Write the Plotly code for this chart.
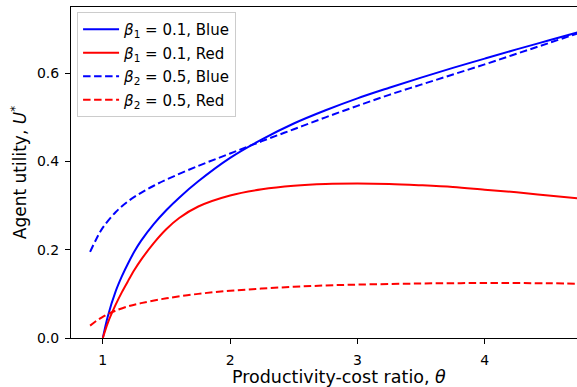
import plotly.graph_objects as go

# Blue solid: beta1 = 0.1, Blue
theta_b1 = [1.0, 1.04, 1.1, 1.15, 1.2, 1.25, 1.3, 1.4, 1.5, 1.6, 1.75, 2.0, 2.25, 2.5, 2.75,
            3.0, 3.25, 3.5, 3.75, 4.0, 4.25, 4.5, 4.75]
u_b1 = [0.0, 0.05, 0.105, 0.14, 0.17, 0.197, 0.22, 0.258, 0.29, 0.318, 0.355, 0.408, 0.45,
        0.486, 0.516, 0.543, 0.567, 0.59, 0.612, 0.633, 0.654, 0.674, 0.694]

# Red solid: beta1 = 0.1, Red
theta_r1 = [1.0, 1.04, 1.1, 1.15, 1.2, 1.25, 1.3, 1.4, 1.5, 1.6, 1.75, 2.0, 2.25, 2.5, 2.75,
            3.0, 3.25, 3.5, 3.75, 4.0, 4.25, 4.5, 4.75]
u_r1 = [0.0, 0.035, 0.075, 0.104, 0.13, 0.155, 0.177, 0.215, 0.247, 0.272, 0.298, 0.323, 0.337,
        0.345, 0.349, 0.35, 0.349, 0.346, 0.342, 0.336, 0.33, 0.323, 0.316]

# Blue dashed: beta2 = 0.5, Blue
theta_b2 = [0.9, 0.95, 1.0, 1.1, 1.2, 1.3, 1.4, 1.5, 1.75, 2.0, 2.25, 2.5, 2.75, 3.0, 3.25,
            3.5, 3.75, 4.0, 4.25, 4.5, 4.75]
u_b2 = [0.195, 0.225, 0.25, 0.285, 0.31, 0.329, 0.345, 0.359, 0.39, 0.418, 0.446, 0.473, 0.5,
        0.526, 0.551, 0.574, 0.597, 0.62, 0.644, 0.668, 0.692]

# Red dashed: beta2 = 0.5, Red
theta_r2 = [0.9, 0.95, 1.0, 1.05, 1.1, 1.2, 1.3, 1.5, 1.75, 2.0, 2.25, 2.5, 2.75, 3.0, 3.5,
            4.0, 4.5, 4.75]
u_r2 = [0.028, 0.039, 0.048, 0.056, 0.062, 0.072, 0.079, 0.09, 0.1, 0.107, 0.112, 0.116, 0.119,
        0.121, 0.1235, 0.1245, 0.124, 0.123]

labels = ["<i>β</i><sub>1</sub> = 0.1, Blue", "<i>β</i><sub>1</sub> = 0.1, Red",
          "<i>β</i><sub>2</sub> = 0.5, Blue", "<i>β</i><sub>2</sub> = 0.5, Red"]

x_title = "Productivity-cost ratio, <i>θ</i>"
y_title = "Agent utility, <i>U</i><sup>*</sup>"

DASH = "7.5px,3.5px"
series = [
    (theta_b1, u_b1, "#0000ff", "solid"),
    (theta_r1, u_r1, "#ff0000", "solid"),
    (theta_b2, u_b2, "#0000ff", DASH),
    (theta_r2, u_r2, "#ff0000", DASH),
]

fig = go.Figure()
for i, ((x, y, c, d), name) in enumerate(zip(series, labels)):
    fig.add_trace(go.Scatter(x=x, y=y, mode="lines", name=name, legendgroup=f"g{i}",
                             line=dict(color=c, width=2, dash=d, shape="spline", smoothing=1.0)))

font = dict(family="DejaVu Sans", size=14, color="black")
fig.update_layout(
    width=577, height=387,
    margin=dict(l=71, r=0, t=7, b=49),
    plot_bgcolor="white", paper_bgcolor="white",
    font=font,
    showlegend=True,
    legend=dict(x=0.012, y=0.985, xanchor="left", yanchor="top",
                bgcolor="rgba(255,255,255,0.8)", bordercolor="#cccccc", borderwidth=1,
                font=dict(family="DejaVu Sans", size=15, color="black"),
                itemwidth=36, tracegroupgap=1),
    xaxis=dict(range=[0.75, 4.725], tickvals=[1, 2, 3, 4], ticktext=["1", "2", "3", "4"],
               showgrid=False, zeroline=False, showline=True, linecolor="black", linewidth=1,
               mirror=True, ticks="outside", ticklen=5, tickcolor="black",
               ticklabelstandoff=4),
    yaxis=dict(range=[0, 0.75], tickvals=[0, 0.2, 0.4, 0.6], ticktext=["0.0", "0.2", "0.4", "0.6"],
               showgrid=False, zeroline=False, showline=True, linecolor="black", linewidth=1,
               ticks="outside", ticklen=5, tickcolor="black", ticklabelstandoff=3,
               title=dict(text=y_title, standoff=5, font=dict(size=17))),
    annotations=[dict(text=x_title, xref="paper", yref="paper", x=0.529, y=-0.118,
                      xanchor="center", yanchor="middle", showarrow=False,
                      font=dict(family="DejaVu Sans", size=17.5, color="black"))],
)

fig.write_html("out.html")
